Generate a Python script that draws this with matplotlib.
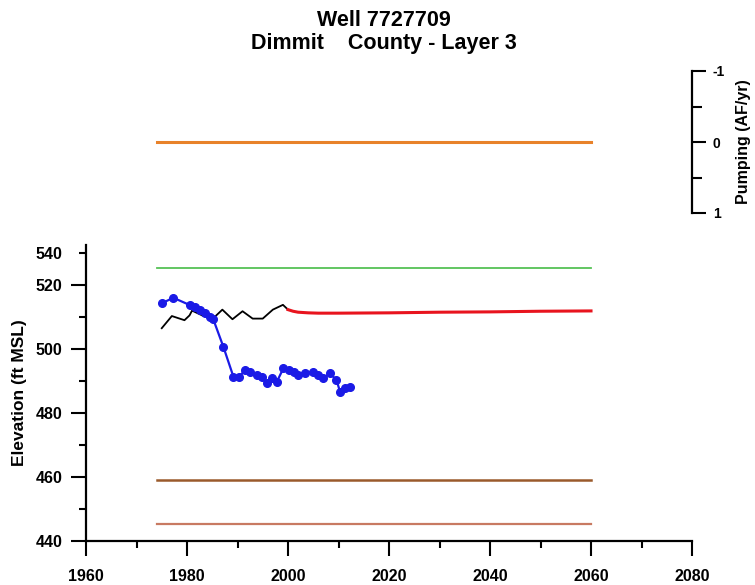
import numpy as np
import matplotlib.pyplot as plt
from matplotlib.ticker import FixedLocator, FixedFormatter

plt.rcParams['font.family'] = ['Liberation Sans', 'DejaVu Sans']
plt.rcParams['font.weight'] = 'bold'
plt.rcParams['axes.unicode_minus'] = False

# observed water levels (blue dots)
obs_years = [1975.0, 1977.3, 1980.6, 1981.6, 1982.6, 1983.6, 1984.6, 1985.2, 1987.2,
             1989.2, 1990.2, 1991.5, 1992.5, 1993.8, 1994.8, 1995.8, 1996.8, 1997.8,
             1999.1, 2000.1, 2001.1, 2002.0, 2003.4, 2005.0, 2006.0, 2007.0, 2008.3,
             2009.6, 2010.3, 2011.3, 2012.3]
obs_vals = [514.3, 516.0, 513.7, 513.0, 512.2, 511.3, 510.1, 509.3, 500.7,
            491.3, 491.1, 493.4, 492.9, 491.9, 491.3, 489.3, 490.8, 489.8,
            494.0, 493.4, 492.9, 491.9, 492.4, 492.9, 491.9, 490.8, 492.4,
            490.3, 486.7, 487.7, 488.2]

# simulated heads, historical (black) and predictive (red)
sim_years = [1975, 1977, 1979.5, 1980.5, 1981, 1983, 1985, 1987, 1989, 1991, 1993,
             1995, 1997, 1999, 2000]
sim_vals = [506.5, 510.3, 509.0, 510.5, 512.0, 510.5, 509.3, 512.3, 509.3, 511.8, 509.5,
            509.5, 512.3, 513.8, 512.3]
pred_years = [2000, 2001, 2002, 2004, 2006, 2010, 2020, 2030, 2040, 2050, 2060]
pred_vals = [512.3, 511.8, 511.5, 511.3, 511.2, 511.2, 511.3, 511.5, 511.6, 511.8, 511.9]

# reference levels
ref_span = [1974, 2060]
green_level = 525.3
brown_level = 459.1
base_level = 445.3
pumping_level = 0.0

fig = plt.figure(figsize=(7.55, 5.85), dpi=100)
ax = fig.add_axes([86/755, 1-541/585, 606/755, 296/585])
ax2 = fig.add_axes([86/755, 1-213/585, 606/755, 142/585])

ax.plot(ref_span, [green_level]*2, color='#55c255', lw=1.3)
ax.plot(ref_span, [brown_level]*2, color='#9a5a2c', lw=1.8)
ax.plot(ref_span, [base_level]*2, color='#c87a62', lw=1.6)
ax.plot(sim_years, sim_vals, color='black', lw=1.3)
ax.plot(pred_years, pred_vals, color='#e8141e', lw=2.2)
ax.plot(obs_years, obs_vals, color='#1a1ae6', lw=1.6, marker='o', ms=5.5)

ax.set_xlim(1960, 2080)
ax.set_ylim(440, 532.5)
ax.set_xticks(np.arange(1960, 2081, 20))
ax.xaxis.set_minor_locator(FixedLocator(np.arange(1970, 2080, 20)))
ax.set_yticks([440, 460, 480, 500, 520])
ax.yaxis.set_minor_locator(FixedLocator([450, 470, 490, 510, 530]))
ax.yaxis.set_minor_formatter(FixedFormatter(['', '', '', '', '540']))
for s in ['top', 'right']:
    ax.spines[s].set_visible(False)
for s in ['left', 'bottom']:
    ax.spines[s].set_linewidth(1.6)
ax.tick_params(which='major', length=11, width=1.5, labelsize=11.5, pad=6)
ax.tick_params(axis='x', which='major', pad=9)
ax.tick_params(which='minor', length=5, width=1.5, labelsize=11.5, pad=12)
ax.set_ylabel('Elevation (ft MSL)', fontsize=12.5, fontweight='bold', labelpad=6)
ax.patch.set_alpha(0)

ax2.plot(ref_span, [pumping_level]*2, color='#e8822a', lw=2.2)
ax2.set_xlim(1960, 2080)
ax2.set_ylim(1, -1)
for s in ['top', 'left', 'bottom']:
    ax2.spines[s].set_visible(False)
ax2.spines['right'].set_linewidth(1.6)
ax2.set_xticks([])
ax2.yaxis.tick_right()
ax2.set_yticks([-1, 0, 1])
ax2.yaxis.set_minor_locator(FixedLocator([-0.5, 0.5]))
ax2.tick_params(which='major', length=10, width=1.5, labelsize=10, pad=5)
ax2.tick_params(which='minor', length=7, width=1.5)
ax2.yaxis.set_label_position('right')
ax2.set_ylabel('Pumping (AF/yr)', fontsize=11.5, fontweight='bold', labelpad=8)
ax2.patch.set_alpha(0)

fig.text(384/755, 1-20/585, 'Well 7727709', ha='center', va='center', fontsize=15.5, fontweight='bold')
fig.text(384/755, 1-44/585, 'Dimmit    County - Layer 3', ha='center', va='center', fontsize=15.5, fontweight='bold')

fig.savefig('out.png', dpi=100)
